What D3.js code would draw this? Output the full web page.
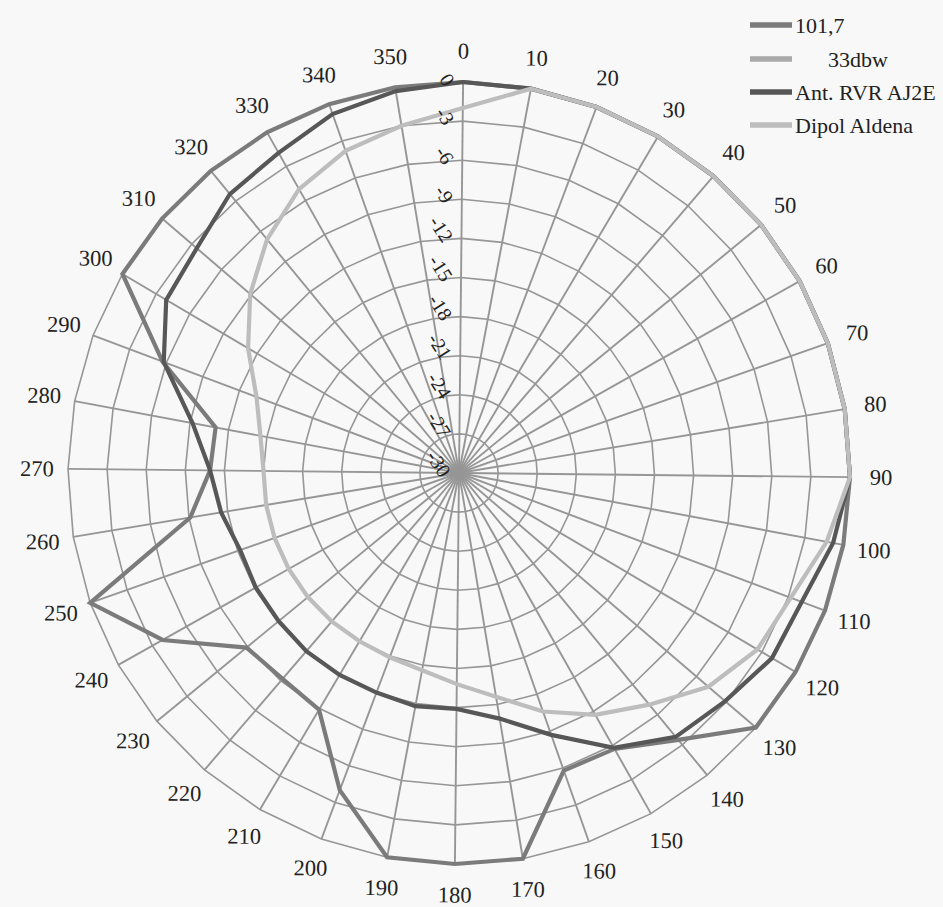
<!DOCTYPE html>
<html>
<head>
<meta charset="utf-8">
<script src="https://cdn.jsdelivr.net/npm/d3@7"></script>
<style>
  body { margin: 0; background: #f8f8f8; }
  svg { display: block; font-family: "Liberation Serif", "DejaVu Serif", serif; }
</style>
</head>
<body>
<svg id="chart" width="943" height="907"></svg>
<script>
// categories (degrees) and radial ticks (dB)
var angles = [0, 10, 20, 30, 40, 50, 60, 70, 80, 90, 100, 110, 120, 130, 140, 150, 160, 170,
              180, 190, 200, 210, 220, 230, 240, 250, 260, 270, 280, 290, 300, 310, 320, 330, 340, 350]
var radialTicks = [0, -3, -6, -9, -12, -15, -18, -21, -24, -27, -30]

var seriesNames  = ['101,7', '      33dbw', 'Ant. RVR AJ2E', 'Dipol Aldena']
var seriesColors = ['#7b7b7b', '#a9a9a9', '#575757', '#bdbdbd']

// values, one per angle
var values_101_7 = [0, 0, 0, 0, 0, 0, 0, 0, 0, 0,
                    0, 0, 0, 0, -3.5, -5.7, -5.8, 0, 0, 0,
                    -4, -8.9, -9.2, -8.9, -3.9, 0, -9.1, -10.9, -11, -5.7,
                    0, 0, 0, 0, 0, 0]
var values_33dbw = []
var values_antRVR = [0, 0, 0, 0, 0, 0, 0, 0, 0, 0,
                     -0.8, -1.9, -2.1, -3.1, -3.8, -5.8, -8.7, -10.9, -11.9, -11.8,
                     -12, -12, -12, -12.1, -12.1, -12.2, -11.5, -10.9, -9.2, -5.8,
                     -3.9, -3.5, -2.3, -1.8, -0.8, -0.3]
var values_dipol = [-2, 0, 0, 0, 0, 0, 0, 0, 0, 0,
                    -1.3, -2.8, -3.4, -4.8, -7, -8.7, -10.6, -12.6, -13.8, -14.6,
                    -14.9, -15, -15, -15, -15, -15, -15, -15, -14.5, -13.4,
                    -11.2, -8.9, -6.8, -5, -3.8, -3]

var series = [values_101_7, values_33dbw, values_antRVR, values_dipol]

var svg = d3.select('#chart')
var cx = 459, cy = 473, R = 391

var r = d3.scaleLinear().domain([-30, 0]).range([0, R])
var a = d3.scaleLinear().domain([0, 360]).range([0, 2 * Math.PI])

// scan is tilted a little clockwise
var g = svg.append('g').attr('transform', 'translate(' + cx + ',' + cy + ') rotate(0.6)')

var ring = d3.lineRadial()
  .angle(function (d) { return a(d) })
  .curve(d3.curveLinearClosed)

// grid rings (polygons)
g.append('g').selectAll('path').data(radialTicks.filter(function (t) { return t > -30 }))
  .enter().append('path')
  .attr('d', function (t) { return ring.radius(r(t))(angles) })
  .attr('fill', 'none').attr('stroke', '#969696').attr('stroke-width', 1.6)

// spokes
g.append('g').selectAll('line').data(angles)
  .enter().append('line')
  .attr('x1', 0).attr('y1', 0)
  .attr('x2', function (d) { return R * Math.sin(a(d)) })
  .attr('y2', function (d) { return -R * Math.cos(a(d)) })
  .attr('stroke', '#969696').attr('stroke-width', 1.9)

// series lines
var line = d3.lineRadial()
  .angle(function (d, i) { return a(angles[i]) })
  .radius(function (d) { return r(d) })
  .curve(d3.curveLinearClosed)

g.append('g').selectAll('path').data(series)
  .enter().append('path')
  .attr('d', function (d) { return d.length ? line(d) : null })
  .attr('fill', 'none')
  .attr('stroke', function (d, i) { return seriesColors[i] })
  .attr('stroke-width', 4.2)
  .attr('stroke-linejoin', 'miter')

// radial tick labels, rotated along the 0 axis
g.append('g').selectAll('text').data(radialTicks)
  .enter().append('text')
  .attr('transform', function (t) { return 'translate(-13,' + (2 - r(t)) + ') rotate(57)' })
  .attr('text-anchor', 'end')
  .attr('dominant-baseline', 'central')
  .attr('font-size', 20).attr('fill', '#222')
  .text(function (t) { return t })

// angle labels
g.append('g').selectAll('text').data(angles)
  .enter().append('text')
  .attr('x', function (d) { return (R + 31) * Math.sin(a(d)) })
  .attr('y', function (d) { return -(R + 31) * Math.cos(a(d)) })
  .attr('text-anchor', 'middle')
  .attr('dominant-baseline', 'central')
  .attr('font-size', 22.5).attr('fill', '#222')
  .text(function (d) { return d })

// legend
var legend = svg.append('g').selectAll('g').data(seriesNames)
  .enter().append('g')
  .attr('transform', function (d, i) { return 'translate(750,' + [25, 59, 92, 125][i] + ')' })
legend.append('line')
  .attr('x1', 0).attr('x2', 42).attr('y1', 0).attr('y2', 0)
  .attr('stroke', function (d, i) { return seriesColors[i] })
  .attr('stroke-width', 5.5)
legend.append('text')
  .attr('x', 45).attr('y', 0)
  .attr('dominant-baseline', 'central')
  .attr('font-size', 22).attr('fill', '#222')
  .style('white-space', 'pre')
  .text(function (d) { return d })
</script>
</body>
</html>
